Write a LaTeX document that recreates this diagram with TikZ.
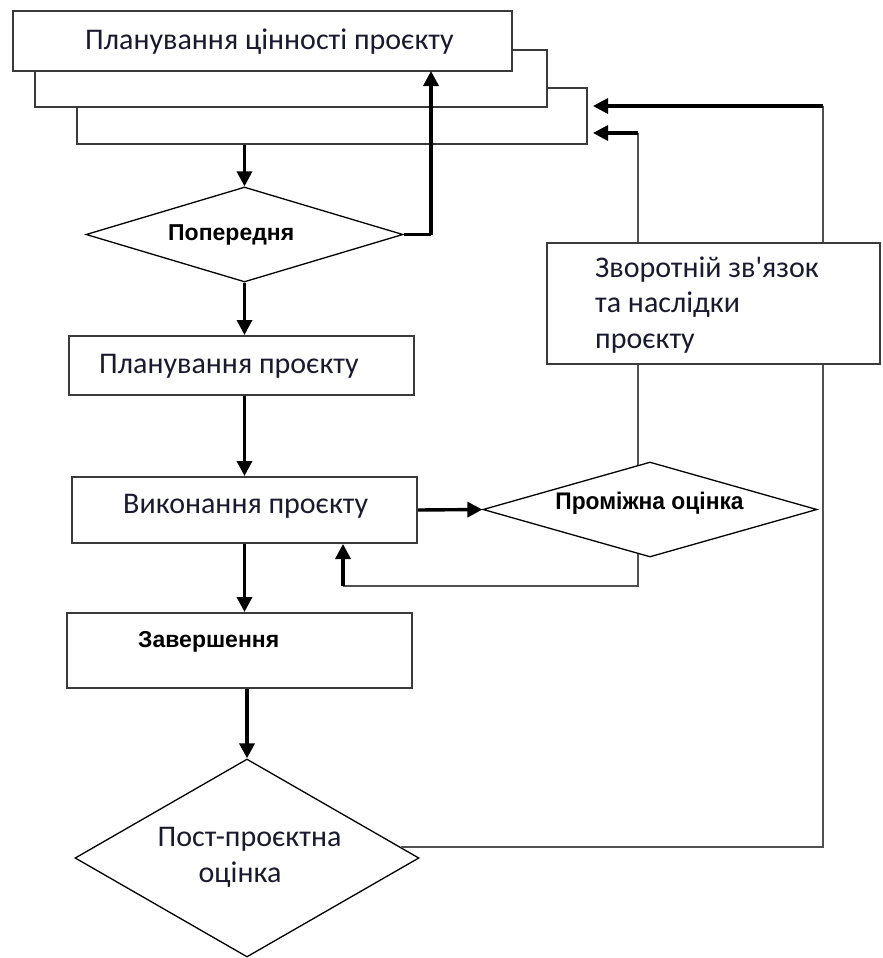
\documentclass[tikz,border=0pt]{standalone}
\usepackage{fontspec}
\setmainfont{Carlito}
\newfontfamily\calfont{Carlito}
\newfontfamily\arialb{Liberation Sans}
\usetikzlibrary{shapes.geometric,arrows.meta}
\definecolor{boxline}{HTML}{3A3A3A}
\definecolor{thinline}{HTML}{505050}
\definecolor{txtcol}{HTML}{1A1A2E}
\tikzset{
  box/.style={draw=boxline, line width=2pt, fill=white, inner sep=0pt},
  dia/.style={draw=black, line width=1.3pt, fill=white, shape=diamond, inner sep=0pt},
  thickarr/.style={draw=black, line width=3.4pt, -{Triangle[length=15pt,width=15pt]}},
  thickln/.style={draw=black, line width=3.4pt},
  thinln/.style={draw=thinline, line width=2pt},
  lbl/.style={anchor=base west, inner sep=0pt, text=txtcol, font=\calfont\fontsize{30}{36}\selectfont},
  blbl/.style={anchor=base west, inner sep=0pt, text=black, font=\arialb\bfseries\fontsize{23}{27}\selectfont}
}
\begin{document}
\begin{tikzpicture}[x=1pt,y=-1pt]
\useasboundingbox (0,0) rectangle (883,958);
% stacked boxes
\node[box, minimum width=510pt, minimum height=56pt] (box3) at (332,116) {};
\node[box, minimum width=512pt, minimum height=57pt] (box2) at (291,78.5) {};
\node[box, minimum width=499pt, minimum height=60pt] (box1) at (262.5,41) {};
\node[lbl] (t1) at (85,50) {Планування цінності проєкту};
% diamond 1
\node[dia, minimum width=317pt, minimum height=95pt, aspect=3.3] (dia1) at (244.5,234.5) {};
\node[blbl] (t2) at (168,240) {Попередня};
% planning box
\node[box, minimum width=345pt, minimum height=59pt] (plan) at (241.5,365.5) {};
\node[lbl] (t3) at (99,373) {Планування проєкту};
% execution box
\node[box, minimum width=345pt, minimum height=66pt] (exec) at (244.5,510) {};
\node[lbl] (t4) at (123,513) {Виконання проєкту};
% intermediate diamond
\node[dia, minimum width=334pt, minimum height=95pt, aspect=3.5] (dia2) at (650,509.5) {};
\node[anchor=base, inner sep=0pt] (t5) at (649.5,509) {\scalebox{0.95}[1]{\arialb\bfseries\fontsize{24}{28}\selectfont Проміжна оцінка}};
% completion box
\node[box, minimum width=345pt, minimum height=75pt] (done) at (239.5,650.5) {};
\node[blbl] (t6) at (138,647) {Завершення};
% post diamond
\node[dia, minimum width=344pt, minimum height=198pt, aspect=1.75] (dia3) at (247,858) {};
\node[lbl, anchor=base] (t7) at (249.5,846) {Пост-проєктна};
\node[lbl, anchor=base] (t8) at (240,882) {оцінка};
% feedback box
\node[box, minimum width=333pt, minimum height=121pt] (fb) at (713.5,303.5) {};
\node[lbl] (t9) at (595,277) {Зворотній зв'язок};
\node[lbl] (t10) at (595,312.5) {та наслідки};
\node[lbl] (t11) at (595,348) {проєкту};
% coordinates
\coordinate (up1) at (431,71);
\coordinate (ret) at (343,586);
\coordinate (r1) at (823,106);
\coordinate (r2) at (638,133);
% main flow
\draw[thickarr] (dia1.north |- box3.south) -- (dia1.north);
\draw[thickln] (dia1.east) -- (dia1.east -| up1);
\draw[thickarr] (dia1.east -| up1) -- (up1);
\draw[thickarr] (dia1.south) -- (dia1.south |- plan.north);
\draw[thickarr] (plan.south -| exec.north) -- (exec.north);
\draw[thickarr] (exec.east) -- (dia2.west);
\draw[thickarr] (exec.south) -- (exec.south |- done.north);
\draw[thickarr] (dia3.north |- done.south) -- (dia3.north);
% intermediate return
\draw[thinln] (dia2.255) |- (ret);
\draw[thickarr] (ret) -- (ret |- exec.south);
% intermediate feedback up
\draw[thinln] (dia2.105) -- (dia2.105 |- fb.south);
\draw[thinln] (fb.north -| r2) -- (r2);
\draw[thickarr, shorten >=5pt] (r2) -- (r2 -| box3.east);
% post feedback
\draw[thinln] (dia3.4) -- (dia3.4 -| r1) -- (fb.south -| r1);
\draw[thinln] (fb.north -| r1) -- (r1);
\draw[thickarr, shorten >=5pt] (r1) -- (r1 -| box3.east);
\end{tikzpicture}
\end{document}
